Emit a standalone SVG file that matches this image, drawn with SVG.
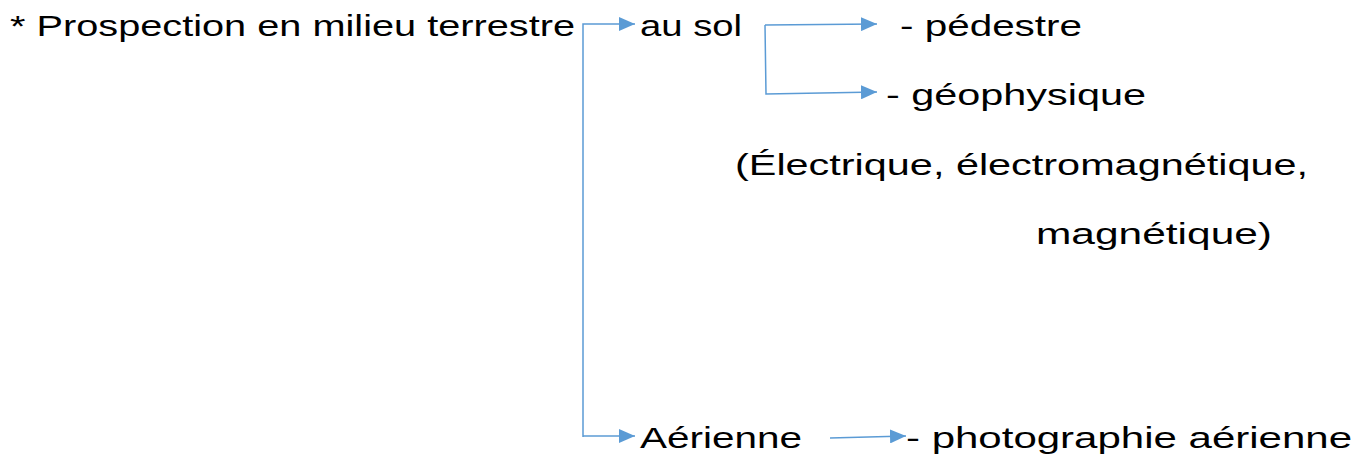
<svg xmlns="http://www.w3.org/2000/svg" width="1372" height="459" viewBox="0 0 1372 459">
<style>
text{font-family:"Liberation Sans",Arial,sans-serif;font-size:30px;fill:#000}
.c{fill:none;stroke:#5B9BD5;stroke-width:1.5}
</style>
<defs>
<marker id="ah" viewBox="0 0 16 14" refX="16" refY="7" markerWidth="16" markerHeight="14" markerUnits="userSpaceOnUse" orient="auto">
<path d="M0,0 L16,7 L0,14 Z" fill="#5B9BD5"/>
</marker>
</defs>
<g id="connectors">
<path class="c" d="M583,437 L583,24 L635,24" marker-end="url(#ah)"/>
<path class="c" d="M583,436 L635,436" marker-end="url(#ah)"/>
<path class="c" d="M765,25 L877,24" marker-end="url(#ah)"/>
<path class="c" d="M765,25 L766,94 L877,92" marker-end="url(#ah)"/>
<path class="c" d="M830,438 L906,436" marker-end="url(#ah)"/>
</g>
<g id="n-root"><text x="10" y="36" textLength="565" lengthAdjust="spacingAndGlyphs">* Prospection en milieu terrestre</text></g>
<g id="n-ausol"><text x="640" y="36" textLength="102" lengthAdjust="spacingAndGlyphs">au sol</text></g>
<g id="n-pedestre"><text x="900" y="36" textLength="182" lengthAdjust="spacingAndGlyphs">- pédestre</text></g>
<g id="n-geophysique"><text x="886" y="105" textLength="260" lengthAdjust="spacingAndGlyphs">- géophysique</text></g>
<g id="n-electrique">
<text x="735" y="175" textLength="573" lengthAdjust="spacingAndGlyphs">(Électrique, électromagnétique,</text>
<text x="1036" y="244" textLength="236" lengthAdjust="spacingAndGlyphs">magnétique)</text>
</g>
<g id="n-aerienne"><text x="640" y="448" textLength="162" lengthAdjust="spacingAndGlyphs">Aérienne</text></g>
<g id="n-photo"><text x="906" y="448" textLength="446" lengthAdjust="spacingAndGlyphs">- photographie aérienne</text></g>
</svg>
